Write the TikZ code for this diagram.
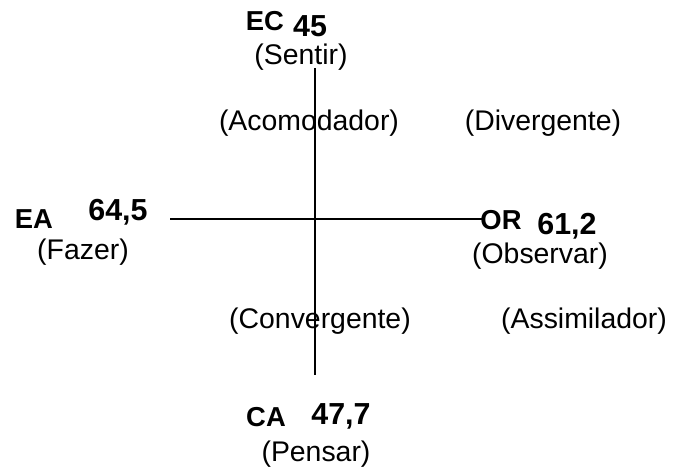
\documentclass[tikz,border=0pt]{standalone}
\usepackage{fontspec}
\setmainfont{Liberation Sans}
\tikzset{
  polo/.style={font=\fontsize{13.7}{15}\selectfont\bfseries, inner sep=0pt},
  valor/.style={font=\fontsize{15.2}{17}\selectfont\bfseries, inner sep=0pt},
  estilo/.style={font=\fontsize{14.2}{16}\selectfont, inner sep=0pt}
}
\begin{document}
\begin{tikzpicture}[x=0.5pt, y=-0.5pt]
\useasboundingbox (0,0) rectangle (673,466);

% Eixos
\coordinate (Ctop) at (315,68);
\coordinate (Cbot) at (315,375);
\coordinate (Eesq) at (170,219);
\coordinate (Edir) at (483,219);
\draw[line width=1pt] (Ctop) -- (Cbot);
\draw[line width=1pt] (Eesq) -- (Edir);

% Polos
\node[polo] (EC) at (265,21) {EC};
\node[valor] (vEC) at (310,26) {45};
\node[estilo] (Sentir) at (301,57) {(Sentir)};

\node[polo] (EA) at (34,219) {EA};
\node[valor] (vEA) at (118,212) {64,5};
\node[estilo] (Fazer) at (83,252) {(Fazer)};

\node[polo] (OR) at (501,220) {OR};
\node[valor] (vOR) at (567,226) {61,2};
\node[estilo] (Observar) at (540,256) {(Observar)};

\node[polo] (CA) at (266,417) {CA};
\node[valor] (vCA) at (341,416) {47,7};
\node[estilo] (Pensar) at (316,454) {(Pensar)};

% Estilos
\foreach \px/\py/\txt in {309/123/Acomodador, 543/123/Divergente,
                          320/321/Convergente, 584/321/Assimilador}
	\node[estilo] at (\px,\py) {(\txt)};
\end{tikzpicture}
\end{document}
